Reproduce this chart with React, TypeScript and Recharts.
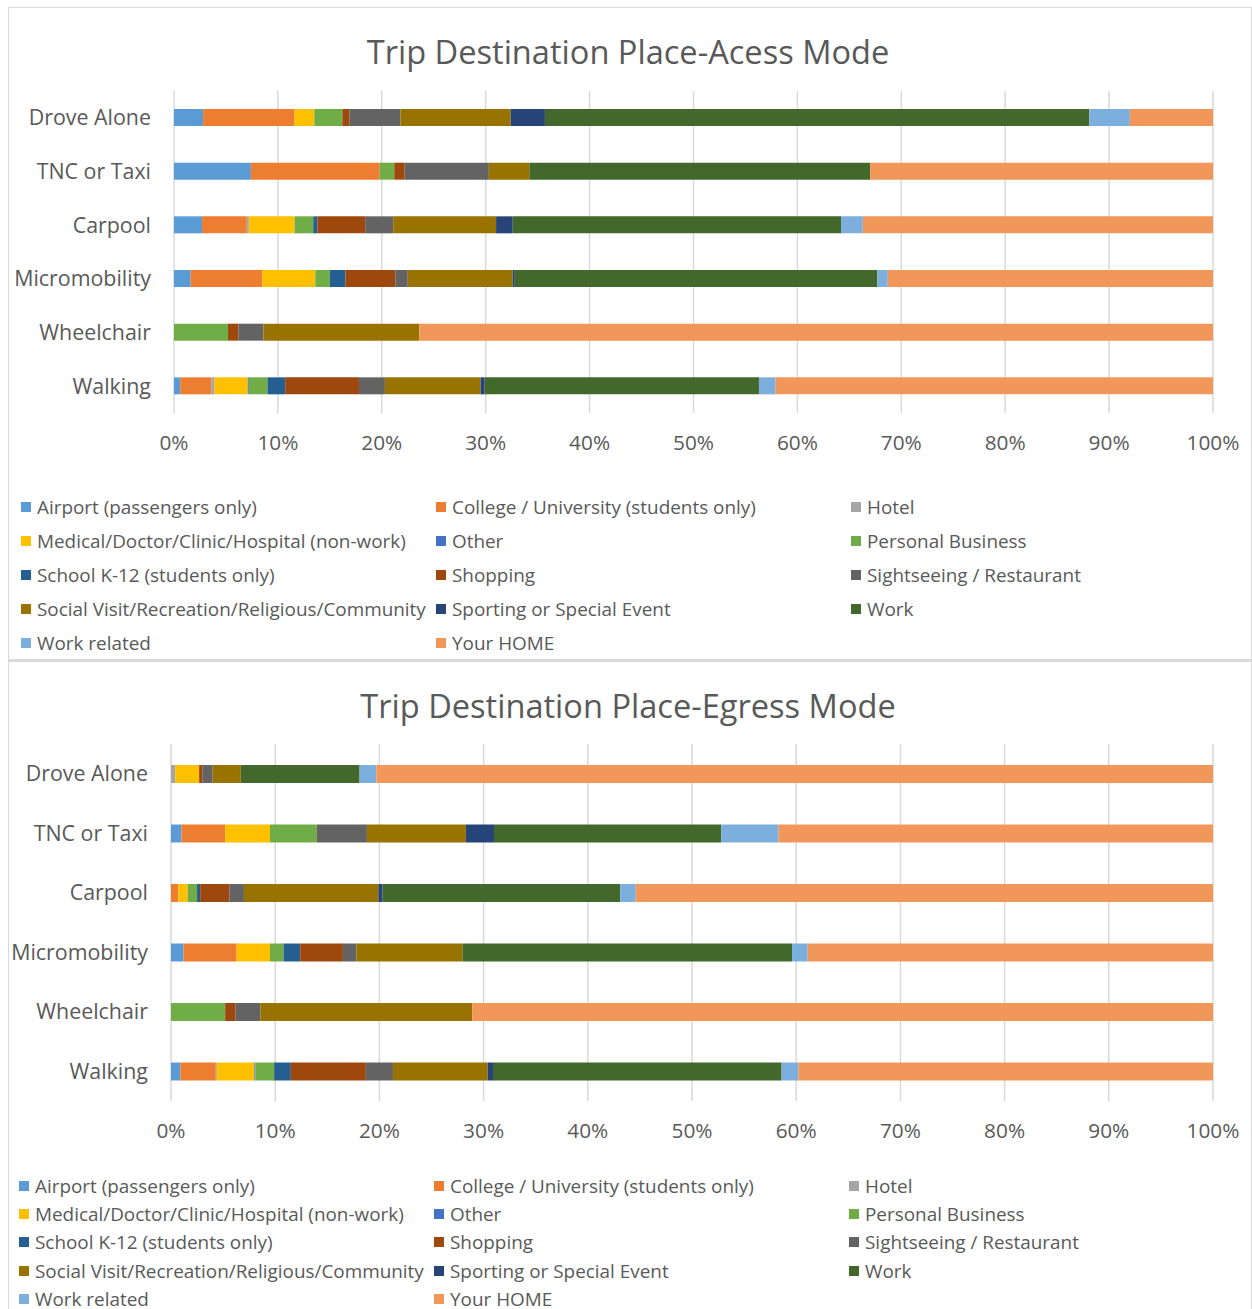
import React from 'react';
import { BarChart, Bar, XAxis, YAxis, CartesianGrid } from 'recharts';

const categories = ['Drove Alone', 'TNC or Taxi', 'Carpool', 'Micromobility', 'Wheelchair', 'Walking'];

const seriesNames = [
  'Airport (passengers only)',
  'College / University (students only)',
  'Hotel',
  'Medical/Doctor/Clinic/Hospital (non-work)',
  'Other',
  'Personal Business',
  'School K-12 (students only)',
  'Shopping',
  'Sightseeing / Restaurant',
  'Social Visit/Recreation/Religious/Community',
  'Sporting or Special Event',
  'Work',
  'Work related',
  'Your HOME',
];

const seriesColors = [
  '#5B9BD5', '#ED7D31', '#A5A5A5', '#FFC000', '#4472C4', '#70AD47', '#255E91',
  '#9E480E', '#636363', '#997300', '#264478', '#43682B', '#7CAFDD', '#F1975A',
];

const xTicks = [0, 10, 20, 30, 40, 50, 60, 70, 80, 90, 100];

// Access mode: values (%) per category, in seriesNames order
const accessDroveAlone = [2.8, 8.8, 0, 1.9, 0, 2.7, 0, 0.7, 4.9, 10.6, 3.3, 52.4, 3.9, 8.0];
const accessTnc = [7.4, 12.4, 0, 0, 0, 1.4, 0, 1.0, 8.1, 3.9, 0, 32.8, 0, 33.0];
const accessCarpool = [2.7, 4.3, 0.2, 4.4, 0, 1.8, 0.4, 4.6, 2.7, 9.9, 1.6, 31.6, 2.1, 33.7];
const accessMicromobility = [1.6, 6.9, 0, 5.1, 0, 1.4, 1.5, 4.8, 1.2, 10.1, 0.2, 34.9, 1.0, 31.3];
const accessWheelchair = [0, 0, 0, 0, 0, 5.2, 0, 1.0, 2.4, 15.0, 0, 0, 0, 76.4];
const accessWalking = [0.6, 3.0, 0.3, 3.2, 0.1, 1.8, 1.7, 7.1, 2.5, 9.2, 0.4, 26.4, 1.6, 42.1];

// Egress mode
const egressDroveAlone = [0, 0, 0.4, 2.3, 0, 0, 0, 0.3, 1.0, 2.7, 0, 11.4, 1.6, 80.3];
const egressTnc = [1.0, 4.2, 0, 4.3, 0, 4.5, 0, 0, 4.8, 9.5, 2.7, 21.8, 5.5, 41.7];
const egressCarpool = [0, 0.7, 0, 0.9, 0, 0.9, 0.3, 2.8, 1.4, 12.9, 0.4, 22.8, 1.5, 55.4];
const egressMicromobility = [1.2, 5.1, 0, 3.2, 0, 1.3, 1.6, 4.1, 1.3, 10.2, 0, 31.6, 1.5, 38.9];
const egressWheelchair = [0, 0, 0, 0, 0, 5.2, 0, 1.0, 2.4, 20.3, 0, 0, 0, 71.1];
const egressWalking = [0.9, 3.4, 0.1, 3.6, 0.1, 1.8, 1.6, 7.2, 2.6, 9.1, 0.5, 27.7, 1.6, 39.8];

const accessValues = [accessDroveAlone, accessTnc, accessCarpool, accessMicromobility, accessWheelchair, accessWalking];
const egressValues = [egressDroveAlone, egressTnc, egressCarpool, egressMicromobility, egressWheelchair, egressWalking];

const buildRows = (vals: number[][]) =>
  categories.map((c, i) => {
    const row: any = { name: c };
    seriesNames.forEach((_, j) => {
      row['s' + j] = vals[i][j];
    });
    return row;
  });

const FONT = '"Open Sans", "DejaVu Sans", sans-serif';
const TEXT = '#595959';

type PanelProps = {
  title: string;
  rows: any[];
  top: number;
  height: number;
  plotTop: number;
  plotBottom: number;
  plotLeft: number;
  barSize: number;
  titleY: number;
  legendRows: number[];
  legendCols: number[];
  borderTop: number;
};

function Panel(p: PanelProps) {
  const chartW = 1244;
  const xAxisH = 30;
  return (
    <div style={{ position: 'absolute', left: 8, top: p.top, width: chartW, height: p.height, borderTop: `${p.borderTop}px solid #d9d9d9`, borderLeft: '1px solid #d9d9d9', borderRight: '1px solid #d9d9d9', boxSizing: 'border-box' }}>
      <div style={{ position: 'absolute', left: 0, top: -p.borderTop, width: chartW, height: p.height }}>
        <div style={{ position: 'absolute', left: 0, width: chartW - 6, top: p.titleY - p.top - 22, textAlign: 'center', fontFamily: FONT, fontSize: 32.6, color: TEXT, lineHeight: '44px' }}>
          {p.title}
        </div>
        <BarChart
          width={chartW}
          height={p.height}
          data={p.rows}
          layout="vertical"
          margin={{ top: p.plotTop - p.top, right: chartW - (1212 - 8), left: 0, bottom: p.height - (p.plotBottom - p.top) - xAxisH }}
          barCategoryGap={0}
        >
          <CartesianGrid horizontal={false} vertical={true} stroke="#d9d9d9" strokeWidth={1.5} />
          <XAxis
            type="number"
            domain={[0, 100]}
            ticks={xTicks}
            tickFormatter={(v: number) => v + '%'}
            axisLine={false}
            tickLine={false}
            tickSize={0}
            tickMargin={22}
            height={xAxisH}
            interval={0}
            tick={{ fill: TEXT, fontSize: 20.8, fontFamily: FONT }}
          />
          <YAxis
            type="category"
            dataKey="name"
            width={p.plotLeft - 8}
            axisLine={false}
            tickLine={false}
            tickSize={0}
            tickMargin={23}
            interval={0}
            tick={{ fill: TEXT, fontSize: 21.4, fontFamily: FONT }}
          />
          {seriesNames.map((n, j) => (
            <Bar key={n} dataKey={'s' + j} name={n} stackId="a" fill={seriesColors[j]} barSize={p.barSize} isAnimationActive={false} />
          ))}
        </BarChart>
        {seriesNames.map((n, j) => {
          const r = Math.floor(j / 3);
          const c = j % 3;
          const y = p.legendRows[r] - p.top;
          const x = p.legendCols[c] - 8;
          return (
            <div key={n} style={{ position: 'absolute', left: x, top: y - 13, height: 26, display: 'flex', alignItems: 'center', fontFamily: FONT, fontSize: 18.9, color: TEXT, whiteSpace: 'nowrap' }}>
              <span style={{ display: 'inline-block', width: 10, height: 10, background: seriesColors[j], marginRight: 6 }} />
              <span>{n}</span>
            </div>
          );
        })}
      </div>
    </div>
  );
}

export default function App() {
  const accessRows = buildRows(accessValues);
  const egressRows = buildRows(egressValues);
  return (
    <div style={{ position: 'absolute', left: 0, top: 0, width: 1252, height: 1309, overflow: 'hidden', background: '#fff' }}>
      <Panel
        title="Trip Destination Place-Acess Mode"
        rows={accessRows}
        top={7}
        height={653}
        plotTop={91}
        plotBottom={413}
        plotLeft={173}
        barSize={17}
        titleY={52}
        legendRows={[507, 541, 575, 609, 643]}
        legendCols={[20, 435, 850]}
        borderTop={1}
      />
      <Panel
        title="Trip Destination Place-Egress Mode"
        rows={egressRows}
        top={659}
        height={660}
        plotTop={744}
        plotBottom={1101}
        plotLeft={170}
        barSize={18}
        titleY={706}
        legendRows={[1186, 1214, 1242, 1271, 1299]}
        legendCols={[18, 433, 848]}
        borderTop={3}
      />
    </div>
  );
}
